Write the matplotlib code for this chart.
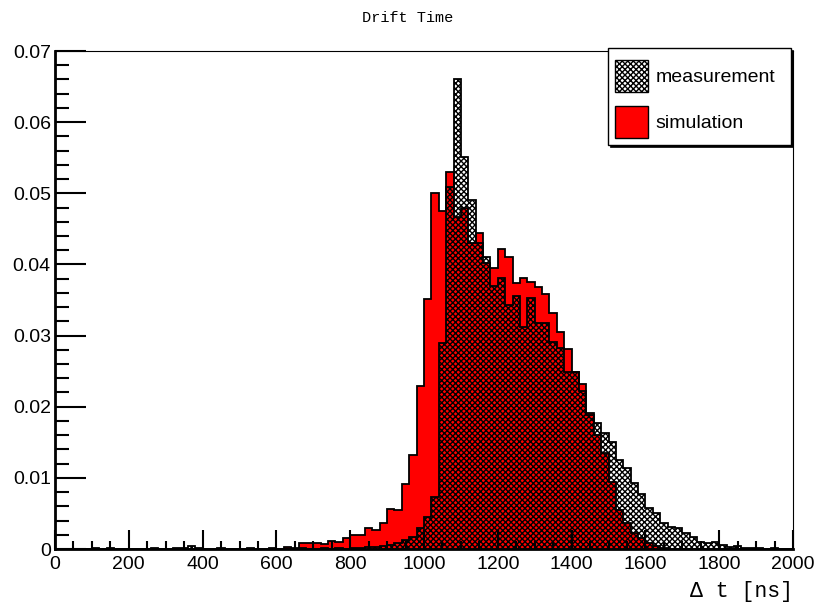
import numpy as np
import matplotlib
matplotlib.use('Agg')
import matplotlib.pyplot as plt
from matplotlib.patches import Patch, Rectangle
from matplotlib.ticker import MultipleLocator

plt.rcParams['font.family'] = ['Liberation Sans', 'DejaVu Sans']
plt.rcParams['hatch.linewidth'] = 1.0

# 100 bins of 20 ns from 0 to 2000 ns (normalised counts)
edges = np.arange(0, 2001, 20)

simulation = [0.0]*31 + [
    0.0003, 0.0001, 0.0008, 0.0008, 0.0008, 0.0007, 0.0011, 0.0010, 0.0015,   # 31-39
    0.0020, 0.0020, 0.0030, 0.0027, 0.0036, 0.0056, 0.0055, 0.0091, 0.0132, 0.0229,  # 40-49
    0.0352, 0.0501, 0.0475, 0.0530, 0.0467, 0.0480, 0.0430, 0.0444, 0.0402, 0.0395,  # 50-59
    0.0422, 0.0411, 0.0374, 0.0381, 0.0376, 0.0368, 0.0359, 0.0332, 0.0305, 0.0281,  # 60-69
    0.0249, 0.0232, 0.0191, 0.0160, 0.0135, 0.0094, 0.0055, 0.0036, 0.0022, 0.0015,  # 70-79
    0.0008, 0.0004, 0.0002,                                                          # 80-82
] + [0.0]*17

measurement = [
    0, 0, 0, 0, 0, 0.0002, 0, 0.0002, 0, 0,                                          # 0-9
    0, 0, 0, 0.0002, 0, 0, 0.0002, 0.0002, 0.0004, 0.0002,                           # 10-19
    0, 0, 0.0002, 0, 0, 0, 0.0002, 0, 0, 0.0001,                                     # 20-29
    0, 0, 0, 0.0002, 0, 0, 0.0002, 0, 0.0002, 0,                                     # 30-39
    0.0002, 0.0002, 0.0003, 0.0003, 0.0004, 0.0006, 0.0008, 0.0013, 0.0017, 0.0030,  # 40-49
    0.0045, 0.0073, 0.0290, 0.0509, 0.0660, 0.0551, 0.0490, 0.0430, 0.0411, 0.0369,  # 50-59
    0.0381, 0.0343, 0.0355, 0.0312, 0.0353, 0.0318, 0.0318, 0.0291, 0.0282, 0.0249,  # 60-69
    0.0249, 0.0222, 0.0188, 0.0177, 0.0163, 0.0151, 0.0125, 0.0114, 0.0093, 0.0077,  # 70-79
    0.0058, 0.0051, 0.0037, 0.0031, 0.0030, 0.0022, 0.0017, 0.0010, 0.0009, 0.0010,  # 80-89
    0.0005, 0.0003, 0.0004, 0.0002, 0.0001, 0.0002, 0, 0.0001, 0, 0,                # 90-99
]

fig = plt.figure(figsize=(8.17, 6.04), dpi=100)
ax = fig.add_axes([55/817, 55/604, 738/817, 498/604])

ax.stairs(simulation, edges, fill=True, facecolor='red', edgecolor='black', linewidth=1.3)
ax.stairs(measurement, edges, fill=True, facecolor='none', edgecolor='black',
          hatch='xxxxxx', linewidth=1.3)

ax.set_xlim(0, 2000)
ax.set_ylim(0, 0.07)

ax.xaxis.set_major_locator(MultipleLocator(200))
ax.xaxis.set_minor_locator(MultipleLocator(50))
ax.yaxis.set_minor_locator(MultipleLocator(0.002))
ax.set_yticks(np.arange(0, 0.0701, 0.01))
ax.set_yticklabels(['0', '0.01', '0.02', '0.03', '0.04', '0.05', '0.06', '0.07'])

ax.tick_params(which='both', direction='in', top=False, right=False, labelsize=14, width=1.5)
ax.tick_params(axis='y', which='major', length=22, pad=3)
ax.tick_params(axis='y', which='minor', length=10)
ax.tick_params(axis='x', which='major', length=14, pad=5)
ax.tick_params(axis='x', which='minor', length=6)

ax.spines['left'].set_linewidth(2)
ax.spines['bottom'].set_linewidth(2)
ax.spines['top'].set_linewidth(0.8)
ax.spines['right'].set_linewidth(0.8)

fig.text(408/817, 1 - 18/604, 'Drift Time', family='Liberation Mono',
         fontsize=11, ha='center', va='center')
fig.text(793/817, 1 - 592/604, '\u0394 t [ns]', family=['Liberation Mono', 'DejaVu Sans'],
         fontsize=15.5, ha='right', va='center')

# legend box with a thin ROOT-like shadow
lx0, ly0, lx1, ly1 = 608/817, 1 - 145/604, 791/817, 1 - 48/604
fig.patches.append(Rectangle((lx0 + 2/817, ly0 - 2/604), lx1 - lx0, ly1 - ly0,
                             transform=fig.transFigure, facecolor='black',
                             edgecolor='black', linewidth=0.5, zorder=5))
fig.patches.append(Rectangle((lx0, ly0), lx1 - lx0, ly1 - ly0,
                             transform=fig.transFigure, facecolor='white',
                             edgecolor='black', linewidth=1, zorder=6))
handles = [Patch(facecolor='white', edgecolor='black', hatch='xxxxxx', label='measurement'),
           Patch(facecolor='red', edgecolor='black', label='simulation')]
leg = fig.legend(handles=handles, loc='upper left',
                 bbox_to_anchor=(598/817, 1 - 43/604), frameon=False, fontsize=14,
                 handlelength=1.7, handleheight=2.2, handletextpad=0.4,
                 labelspacing=0.7, borderpad=0.35)
leg.set_zorder(7)

fig.savefig('out.png', dpi=100)
